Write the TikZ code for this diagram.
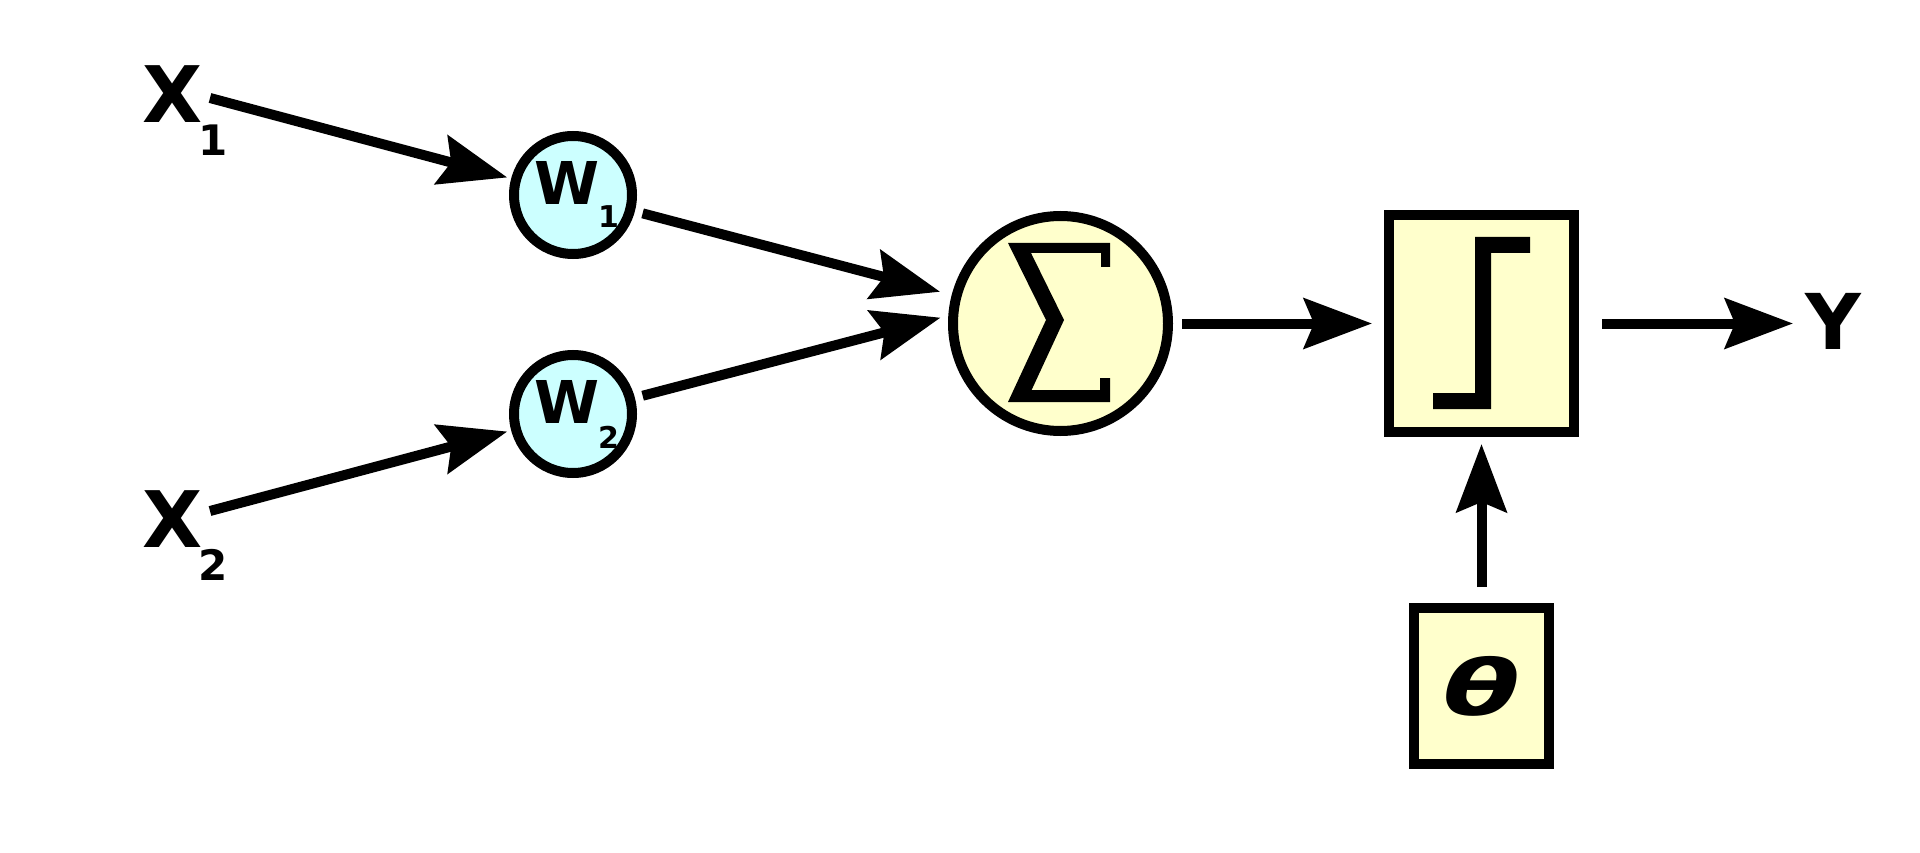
\documentclass[tikz,border=0pt]{standalone}
\usepackage{fontspec}
\usepackage{graphicx}
\setmainfont{DejaVu Sans}
\usetikzlibrary{arrows.meta,calc}
\definecolor{wcyan}{HTML}{CCFFFF}
\definecolor{byellow}{HTML}{FFFFCC}
\begin{document}
\begin{tikzpicture}[x=1pt,y=-1pt,
  lbl/.style={inner sep=0pt, outer sep=0pt},
  wnode/.style={circle, draw=black, line width=10pt, fill=wcyan, minimum size=118pt, inner sep=0pt},
  sumnode/.style={circle, draw=black, line width=10pt, fill=byellow, minimum size=215pt, inner sep=0pt},
  boxnode/.style={rectangle, draw=black, line width=10pt, fill=byellow, inner sep=0pt},
  arr/.style={line width=10pt, -{Stealth[length=68pt, width=50pt, inset=10pt]}}
]
\useasboundingbox (0,0) rectangle (1920,853);

% nodes
\node[wnode] (w1) at (573,195) {};
\node[wnode] (w2) at (573,414) {};
\node[sumnode] (sum) at (1060.5,323.5) {};
\node[boxnode, minimum width=185pt, minimum height=217pt] (step) at (1481.5,323.5) {};
\node[boxnode, minimum width=135pt, minimum height=156pt] (theta) at (1481.5,686)
  {\fontsize{77}{77}\selectfont\bfseries\itshape\scalebox{1.45}[1]{θ}};

% labels
\node[lbl, anchor=base west] (x1) at (142,123)
  {\fontsize{78}{78}\selectfont\bfseries X\kern-4pt\raisebox{-33pt}{\fontsize{42}{42}\selectfont 1}};
\node[lbl, anchor=base west] (x2) at (142,547)
  {\fontsize{78}{78}\selectfont\bfseries X\kern-4pt\raisebox{-33pt}{\fontsize{42}{42}\selectfont 2}};
\node[lbl, anchor=base west] (w1t) at (534,205)
  {\fontsize{59}{59}\selectfont\bfseries W\kern-1pt\raisebox{-23pt}{\fontsize{30}{30}\selectfont 1}};
\node[lbl, anchor=base west] (w2t) at (534,423)
  {\fontsize{59}{59}\selectfont\bfseries W\kern-1pt\raisebox{-25pt}{\fontsize{30}{30}\selectfont 2}};
\node[lbl, anchor=base west] (ynode) at (1805,349)
  {\fontsize{77}{77}\selectfont\bfseries Y};

% sigma glyph
\fill (1008,243) -- (1110,243) -- (1110,267) -- (1101,267) -- (1101,253) -- (1031,253)
  -- (1064,320) -- (1031.6,390) -- (1100,390) -- (1100,378) -- (1110,378) -- (1110,402)
  -- (1008,402) -- (1046,320) -- cycle;

% step glyph
\fill (1433,409) -- (1491,409) -- (1491,253) -- (1530,253) -- (1530,237) -- (1475,237)
  -- (1475,393) -- (1433,393) -- cycle;

% connectors
\coordinate (x1o) at (210,98);
\coordinate (x2o) at (210,511);
\draw[arr, shorten >=4pt] (x1o) -- (w1);
\draw[arr, shorten >=4pt] (x2o) -- (w2);
\draw[arr, shorten <=8pt, shorten >=12pt] (w1) -- (sum);
\draw[arr, shorten <=8pt, shorten >=8pt] (w2) -- (sum.176);
\draw[arr, shorten <=9pt, shorten >=12pt] (sum) -- (step);
\draw[arr, shorten <=16pt, shorten >=7pt] (theta) -- (step);
\draw[arr, shorten <=23pt, shorten >=12pt] (step) -- (step -| ynode.west);
\end{tikzpicture}
\end{document}
